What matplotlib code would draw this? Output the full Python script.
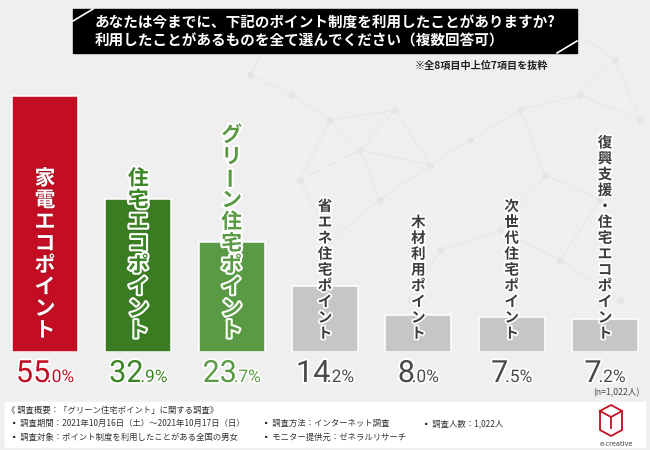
import matplotlib.pyplot as plt
import matplotlib.patheffects as pe
import numpy as np

# data
labels = ["家電エコポイント", "住宅エコポイント", "グリーン住宅ポイント", "省エネ住宅ポイント",
          "木材利用ポイント", "次世代住宅ポイント", "復興支援・住宅エコポイント"]
values = [55.0, 32.9, 23.7, 14.2, 8.0, 7.5, 7.2]
bar_colors = ["#c30d23", "#3a7c22", "#5b9a45", "#c6c6c6", "#c6c6c6", "#c6c6c6", "#c6c6c6"]
pct_colors = ["#c30d23", "#3c8526", "#5b9a45", "#4a4a4a", "#4a4a4a", "#4a4a4a", "#4a4a4a"]
title_lines = ["あなたは今までに、下記のポイント制度を利用したことがありますか?",
               "利用したことがあるものを全て選んでください（複数回答可）"]
note = "※全8項目中上位7項目を抜粋"
sample_note = "(n=1,022人)"
footer = [
    [(7, "《 調査概要：「グリーン住宅ポイント」に関する調査》")],
    [(10, "▪ 調査期間：2021年10月16日（土）～2021年10月17日（日）"), (262, "▪ 調査方法：インターネット調査"),
     (422, "▪ 調査人数：1,022人")],
    [(10, "▪ 調査対象：ポイント制度を利用したことがある全国の男女"), (262, "▪ モニター提供元：ゼネラルリサーチ")],
]

JP = ["Noto Sans CJK JP", "DejaVu Sans"]
NUM = ["Roboto", "DejaVu Sans"]
BG = "#efefef"

fig = plt.figure(figsize=(6.5, 4.5), dpi=100)
fig.patch.set_facecolor(BG)

# background layer in pixel coords
bg = fig.add_axes([0, 0, 1, 1], zorder=0)
bg.set_xlim(0, 650)
bg.set_ylim(450, 0)
bg.axis("off")

# faint network decoration
nodes = np.array([[250, 75], [292, 95], [330, 120], [300, 180], [360, 150], [395, 110], [430, 165],
                  [470, 140], [520, 110], [545, 175], [580, 95], [615, 60], [640, 120], [600, 200],
                  [500, 230], [440, 250], [380, 200], [330, 240], [560, 260], [620, 300], [470, 30],
                  [560, 20], [395, 30], [280, 20], [410, 300]])
for a in range(len(nodes)):
    for b in range(a + 1, len(nodes)):
        if np.hypot(*(nodes[a] - nodes[b])) < 75:
            bg.plot(*zip(nodes[a], nodes[b]), color="#e5e5e5", lw=0.6, zorder=0)
bg.scatter(nodes[:, 0], nodes[:, 1], s=16, color="#e5e5e5", zorder=0)

# bars
ax = fig.add_axes([0, 98 / 450, 1, 279 / 450], zorder=1)
ax.patch.set_alpha(0)
x = np.arange(len(values))
ax.bar(x, values, width=0.707, color=bar_colors, edgecolor="white", linewidth=1.1)
ax.set_xlim(-0.482, 6.482)
ax.set_ylim(0, 60)
ax.axis("off")

# overlay layer for texts
top = fig.add_axes([0, 0, 1, 1], zorder=2)
top.patch.set_alpha(0)
top.set_xlim(0, 650)
top.set_ylim(450, 0)
top.axis("off")

# title box
top.add_patch(plt.Rectangle((73, 9), 504, 44, color="black"))
top.plot([73, 93], [21, 9], color="white", lw=1.2)
top.plot([557, 577], [53, 41], color="white", lw=1.2)
top.text(95, 23, title_lines[0], family=JP, fontsize=10.5, weight="bold", color="white", va="center")
top.text(95, 41, title_lines[1], family=JP, fontsize=10.5, weight="bold", color="white", va="center")
top.text(548, 66, note, family=JP, fontsize=7.3, weight="bold", color="#222222", ha="right", va="center")

renderer = fig.canvas.get_renderer()
for i, (lab, v) in enumerate(zip(labels, values)):
    cx = ax.transData.transform((i, 0))[0]
    big = i < 3
    pitch = 21.7 if big else 15.9
    fs = 15 if big else 10.5
    if i == 0:
        col, stroke, sw = "white", "#9e0a1c", 0.8
    elif big:
        col, stroke, sw = pct_colors[i], "white", 3
    else:
        col, stroke, sw = "#3d3d3d", "white", 2.5
    n = len(lab)
    for k, ch in enumerate(lab):
        cy = 341 - (n - k - 0.5) * pitch
        top.text(cx, cy, ch, family=JP, fontsize=fs, weight="bold", color=col, ha="center", va="center",
                 rotation=90 if ch == "ー" else 0,
                 path_effects=[pe.withStroke(linewidth=sw, foreground=stroke)])

    # percent label: big integer part + small decimal part
    s = f"{v:.1f}%"
    p1, p2 = s.split(".")
    eff = [pe.withStroke(linewidth=2.5, foreground="white")]
    t1 = top.text(0, 382, p1, family=NUM, fontsize=22, color=pct_colors[i], ha="left",
                  va="baseline", path_effects=eff)
    t2 = top.text(0, 382, "." + p2, family=NUM, fontsize=12.5, color=pct_colors[i],
                  ha="left", va="baseline", path_effects=eff)
    w1 = t1.get_window_extent(renderer).width
    w2 = t2.get_window_extent(renderer).width
    left = cx - (w1 + w2 - 3) / 2
    t1.set_x(left)
    t2.set_x(left + w1 - 3)

top.text(640, 393, sample_note, family=JP, fontsize=6.3, color="#4a4a4a", ha="right", va="center")

# footer box
top.add_patch(plt.Rectangle((5, 402), 640, 45, color="white"))
for row, yy in zip(footer, [410, 423.5, 437]):
    for xx, txt in row:
        top.text(xx, yy, txt, family=JP, fontsize=6, color="#333333", va="center")

# logo
red = "#c30d23"
top.plot([600, 611, 622, 622, 611, 600, 600], [411, 405, 411, 430, 436, 430, 411], color=red, lw=1.3)
top.plot([600, 611, 622], [411, 417, 411], color=red, lw=1.3)
top.plot([611, 611], [417, 428], color=red, lw=1.3)
top.text(616, 444, "e-creative", family=["DejaVu Sans"], fontsize=4.8, color="#444444", ha="center",
         va="center")

fig.savefig("out.png", dpi=100, facecolor=BG)
